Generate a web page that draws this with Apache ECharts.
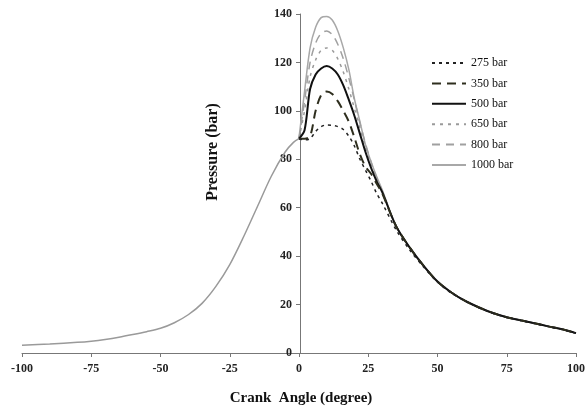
<!DOCTYPE html>
<html>
<head>
<meta charset="utf-8">
<script src="https://cdn.jsdelivr.net/npm/echarts@6/dist/echarts.min.js"></script>
<style>
html,body{margin:0;padding:0;background:#fff;}
#chart{width:588px;height:407px;}
</style>
</head>
<body>
<div id="chart"></div>
<script>
// Compression (motoring) part, common to all curves
const motoringAngles = [-100,-90,-80,-75,-70,-65,-60,-55,-50,-45,-40,-35,-30,-25,-20,-15,-10,-5,-2,0];
const motoringPressure = [3.2,3.7,4.4,4.9,5.6,6.5,7.6,8.8,10.2,12.5,15.8,20.5,27.5,36.5,48,60.5,73,83,87,88.5];

// Combustion / expansion part
const combAngles = [0,2,4,6,8,10,12,14,16,18,20,22,24,26,28,30,35,40,45,50,55,60,65,70,75,80,85,90,95,100];
const p275  = [88.5,88,88.5,91.5,93.5,94.2,94,93.5,92.3,89.5,85.5,80,75.5,71,66,62,51,42.5,35.5,29.3,24.8,21.4,18.7,16.4,14.7,13.4,12.2,10.9,9.7,8.1];
const p350  = [88.5,88.5,89.5,100,106.5,108,107,104,100,95.5,89,82,77,74,70,66,52.5,43.5,36,29.5,25,21.5,18.8,16.5,14.8,13.5,12.3,11,9.8,8.2];
const p500  = [88.5,92,109,115,117.5,118.5,117.5,115,110.5,104.5,98,90.5,83,76.5,71,66.5,52.5,43.5,36,29.5,25,21.5,18.8,16.5,14.8,13.5,12.3,11,9.8,8.2];
const p650  = [88.5,100,114,121,125,126,125,121.5,116,109,101,93,85,78,72,67,52.5,43.5,36,29.5,25,21.5,18.8,16.5,14.8,13.5,12.3,11,9.8,8.2];
const p800  = [88.5,104,120,128,132,133,131.5,127.5,121.5,113.5,104.5,95,86.5,79,72.5,67,52.5,43.5,36,29.5,25,21.5,18.8,16.5,14.8,13.5,12.3,11,9.8,8.2];
const p1000 = [89,108,126,134.5,138.5,139,137.5,133,126,117,105,95.5,86,79,73,67.5,52.5,43.5,36,29.5,25,21.5,18.8,16.5,14.8,13.5,12.3,11,9.8,8.2];

const seriesNames = ['275 bar','350 bar','500 bar','650 bar','800 bar','1000 bar'];

function pairs(xs, ys){ return xs.map((x,i)=>[x, ys[i]]); }

const serif = 'Liberation Serif';

function lineSeries(name, ys, color, width, dash, z){
  return {
    name: name, type: 'line', data: pairs(combAngles, ys),
    showSymbol: false, symbol: 'none', smooth: 0.3, z: z,
    lineStyle: {color: color, width: width, type: dash},
    itemStyle: {color: color}
  };
}

const chart = echarts.init(document.getElementById('chart'));
chart.setOption({
  animation: false,
  backgroundColor: '#fff',
  grid: {left: 22, right: 10, top: 14, bottom: 54, containLabel: false},
  xAxis: {
    type: 'value', min: -100, max: 100, interval: 25,
    axisLine: {onZero: false, lineStyle: {color: '#777', width: 1}},
    axisTick: {show: true, length: 4, lineStyle: {color: '#777'}},
    axisLabel: {fontFamily: serif, fontWeight: 'bold', fontSize: 12, color: '#222', margin: 10},
    splitLine: {show: false}
  },
  yAxis: {
    type: 'value', min: 0, max: 140, interval: 20, offset: -278,
    axisLine: {show: true, onZero: false, lineStyle: {color: '#777', width: 1}},
    axisTick: {show: true, length: 4, lineStyle: {color: '#777'}},
    axisLabel: {fontFamily: serif, fontWeight: 'bold', fontSize: 12, color: '#222', margin: 8},
    splitLine: {show: false}
  },
  legend: {
    orient: 'vertical', left: 431, top: 57, padding: 0,
    itemWidth: 34, itemHeight: 12, itemGap: 8.4,
    data: seriesNames,
    textStyle: {fontFamily: serif, fontSize: 12, color: '#111'},
    itemStyle: {opacity: 0}
  },
  graphic: [
    {type: 'text', x: 213, y: 152, rotation: Math.PI/2,
     style: {text: 'Pressure (bar)', font: 'bold 16px "Liberation Serif"', fill: '#111', textAlign: 'center', textVerticalAlign: 'middle'}},
    {type: 'text', x: 301, y: 398,
     style: {text: 'Crank  Angle (degree)', font: 'bold 15px "Liberation Serif"', fill: '#111', textAlign: 'center', textVerticalAlign: 'middle'}}
  ],
  series: [
    {name: 'motoring', type: 'line', data: pairs(motoringAngles, motoringPressure),
     showSymbol: false, symbol: 'none', smooth: 0.3, z: 1,
     lineStyle: {color: '#9a9a9a', width: 1.5}},
    lineSeries('1000 bar', p1000, '#a8a8a8', 1.5, 'solid', 2),
    lineSeries('800 bar', p800, '#a0a0a0', 1.5, [8,6], 3),
    lineSeries('650 bar', p650, '#9a9a9a', 1.5, [3,5], 4),
    lineSeries('500 bar', p500, '#111111', 2, 'solid', 5),
    lineSeries('350 bar', p350, '#2e2e1e', 2, [9,6], 6),
    lineSeries('275 bar', p275, '#222222', 1.5, [3,4], 7)
  ]
});
</script>
</body>
</html>
